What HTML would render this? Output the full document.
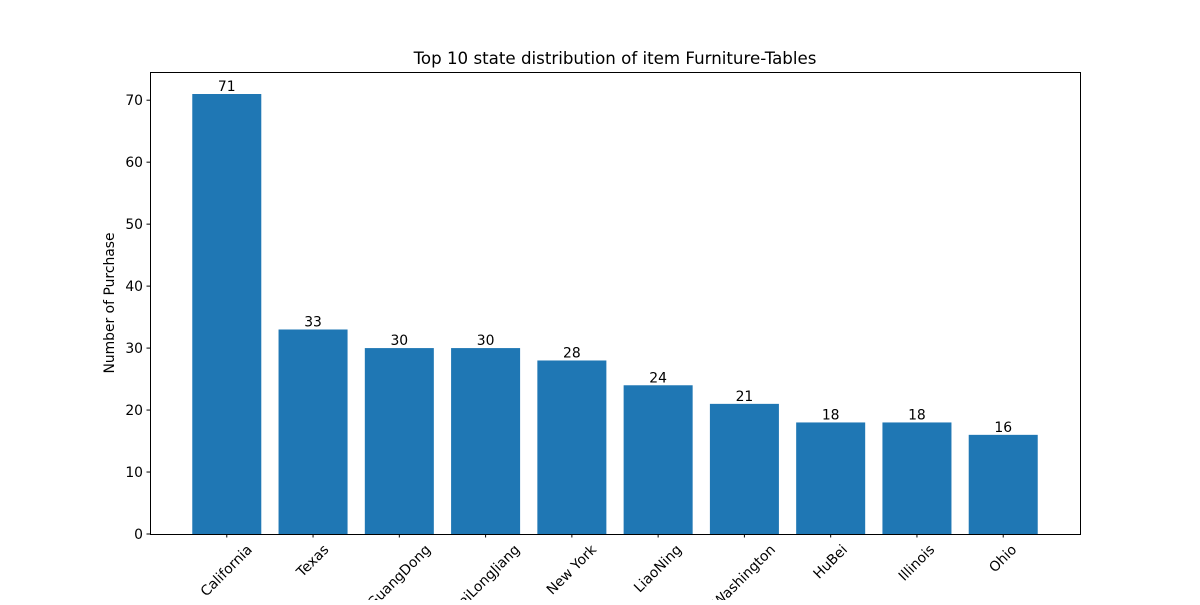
<!DOCTYPE html>
<html><head><meta charset="utf-8"><style>body{margin:0;background:#fff}svg{font-family:"DejaVu Sans","Liberation Sans",sans-serif}</style></head>
<body>
<svg id="c" width="1200" height="600">
<rect width="1200" height="600" fill="#fff"/>
<text x="615" y="64" font-size="16.67" text-anchor="middle">Top 10 state distribution of item Furniture-Tables</text>
<text transform="translate(114,303) rotate(-90)" font-size="13.9" text-anchor="middle">Number of Purchase</text>
<g id="g"></g>
<rect x="150.5" y="72.5" width="930" height="462" fill="none" stroke="#000" stroke-width="1"/>
</svg>
<script>
const categories=["California","Texas","GuangDong","HeiLongJiang","New York","LiaoNing","Washington","HuBei","Illinois","Ohio"];
const values=[71,33,30,30,28,24,21,18,18,16];
const yTicks=[0,10,20,30,40,50,60,70];
const NS="http://www.w3.org/2000/svg",g=document.getElementById('g');
const L=150,R=1080,T=72,B=534;
const yMax=Math.max(...values)*1.05;
const y=v=>B-v/yMax*(B-T);
const n=categories.length,x0=-0.4-0.05*(n-1+0.8),x1=n-1+0.4+0.05*(n-1+0.8);
const x=v=>L+(v-x0)/(x1-x0)*(R-L);
function mk(t,a){const e=document.createElementNS(NS,t);for(const k in a)e.setAttribute(k,a[k]);g.appendChild(e);return e;}
yTicks.forEach(t=>{
 const tk=mk('line',{x1:L-3.5,x2:L,y1:y(t),y2:y(t),stroke:'#000'});
 
 
 const tl=mk('text',{x:L-7,y:y(t)+5,'font-size':13.9,'text-anchor':'end'});tl.textContent=t;
 
 
});
const bw=(x(0.8)-x(0));
categories.forEach((c,i)=>{
 const b=mk('rect',{x:x(i)-bw/2,y:y(values[i]),width:bw,height:B-y(values[i]),fill:'#1f77b4'});
 
 
 const vl=mk('text',{x:x(i),y:y(values[i])-3,'font-size':13.9,'text-anchor':'middle'});vl.textContent=values[i];
 
 
 const tk=mk('line',{x1:x(i),x2:x(i),y1:B,y2:B+3.5,stroke:'#000'});
 
 
 const tl=mk('text',{x:0,y:0,'font-size':13.9,'text-anchor':'middle','dominant-baseline':'central'});tl.textContent=c;
 
 
 const len=tl.getComputedTextLength(),h=13;
 const half=(len*0.7071+h*0.7071)/2;
 tl.setAttribute('transform','translate('+x(i)+','+(B+9+half)+') rotate(-45)');
});
</script>
</body></html>
